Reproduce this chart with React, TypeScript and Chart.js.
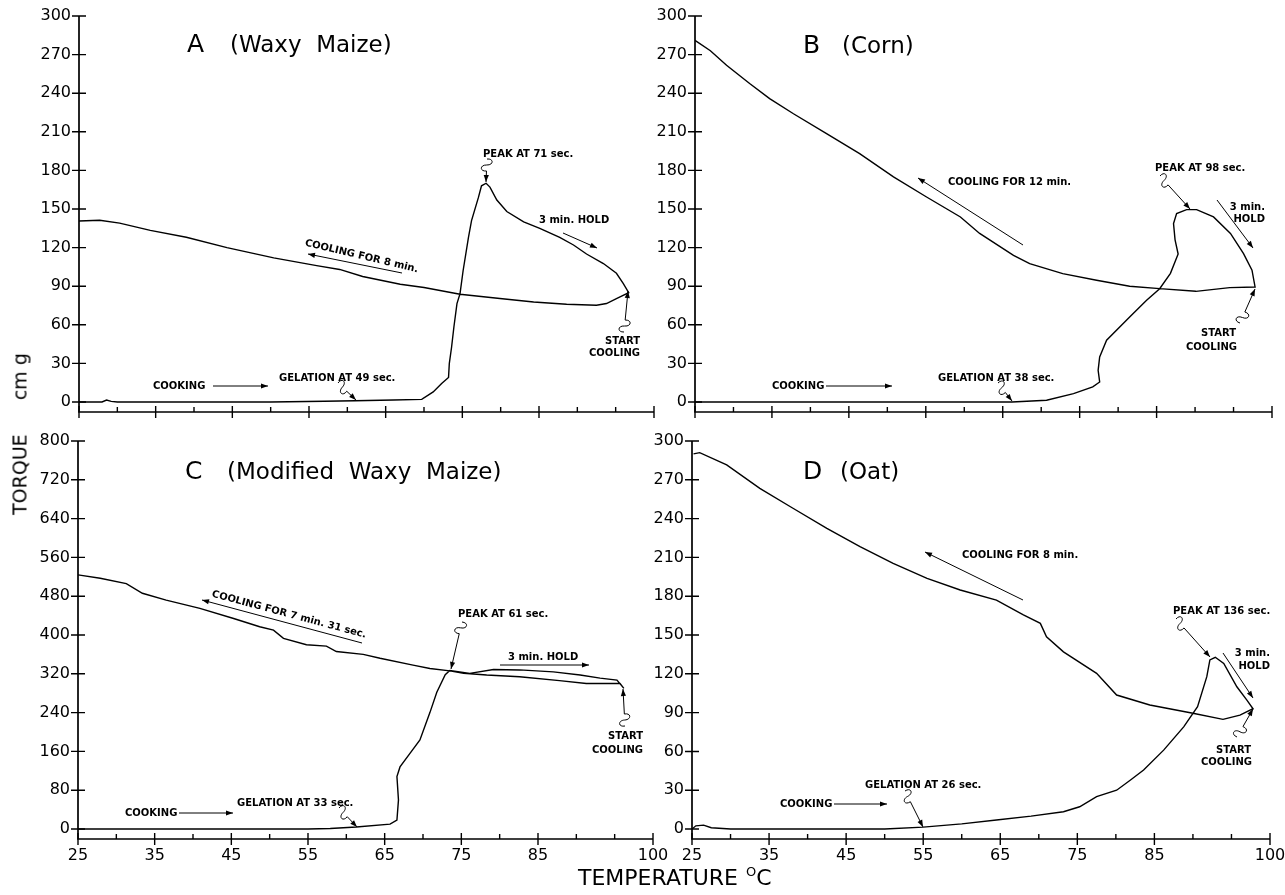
import React, { useEffect, useRef } from "react";
import { Chart, registerables } from "chart.js";
Chart.register(...registerables);

const FONT = '"DejaVu Sans", "Liberation Sans", sans-serif';

// ---- axis ticks ----
const xTicks = [25, 30, 35, 40, 45, 50, 55, 60, 65, 70, 75, 80, 85, 90, 95, 100];
const xLabelValues = [25, 35, 45, 55, 65, 75, 85, 100];
const yTicks300 = [0, 30, 60, 90, 120, 150, 180, 210, 240, 270, 300];
const yTicks800 = [0, 80, 160, 240, 320, 400, 480, 560, 640, 720, 800];

// ---- A (Waxy Maize) ----
const aHeatTemp = [25, 28, 28.6, 29.2, 30, 40, 50, 57, 61, 66, 69.7, 71.2, 72.3, 73.2, 73.3, 73.6, 73.9, 74.3, 74.7, 75.1, 75.8, 76.2, 77.1, 77.5, 78.1, 78.6, 79.5, 80.8, 83, 85.1, 87.7, 89.5, 91.2, 93.4, 95.1, 96, 96.7];
const aHeatTorque = [0, 0, 1.5, 0.5, 0, 0, 0, 0.5, 1, 1.5, 2, 7.8, 14.3, 19, 29.8, 42.7, 58.3, 76.5, 84.2, 102, 128, 141, 159, 168, 170, 167, 157, 148, 140, 135, 128, 122, 115, 107.6, 100, 92, 85];
const aCoolTemp = [96.7, 95.1, 93.8, 92.5, 88.6, 84.3, 79.9, 74.7, 70, 66.9, 62, 59, 56, 50.4, 44.3, 39, 34.3, 30.3, 27.7, 25];
const aCoolTorque = [85, 80.4, 76.5, 75.2, 75.9, 77.7, 80.4, 83.7, 89, 91.5, 97.5, 103, 106, 112, 120, 128, 133.4, 139, 141.2, 140.7];

// ---- B (Corn) ----
const bHeatTemp = [25, 40, 55, 62, 66.2, 70.7, 74.2, 76.7, 77.6, 77.4, 77.6, 78.5, 81.5, 83.7, 85.4, 86.8, 87.8, 87.4, 87.2, 87.6, 88.9, 90.2, 92.4, 94.6, 96.3, 97.4, 97.8];
const bHeatTorque = [0, 0, 0, 0, 0, 1.3, 6.5, 11.7, 15.5, 24.6, 35, 48, 66, 79, 88, 100, 115, 126, 138.6, 146.4, 149.5, 149.5, 143.8, 131, 115.3, 102.4, 89.4];
const bCoolTemp = [97.8, 94.5, 90.1, 85.4, 81.5, 77.2, 72.8, 68.5, 66.4, 64.6, 62, 59.5, 55.1, 50.8, 46.4, 42.1, 37.8, 34.7, 32.1, 29.1, 27, 25];
const bCoolTorque = [89.4, 88.9, 86, 88.1, 89.9, 94.6, 99.8, 107.5, 114, 121, 131, 143.8, 159.3, 175, 193, 208.6, 224, 235.8, 247.5, 261.7, 273, 281];

// ---- C (Modified Waxy Maize) ----
const cHeatTemp = [25, 35, 45, 55, 57.9, 61.3, 65.7, 66.6, 66.8, 66.6, 67, 68.3, 69.6, 70.9, 71.8, 72.9, 73.5, 76.1, 79.2, 82.6, 87, 90.5, 93.1, 95.3, 96.2];
const cHeatTorque = [0, 0, 0, 0, 1, 4, 10, 18.6, 60, 108, 128, 156, 183.5, 240, 282, 318, 327, 321, 329, 328, 324, 317.5, 311, 307, 290];
const cCoolTemp = [96.2, 95.7, 91.3, 87.8, 82.6, 78.3, 75.3, 73.5, 70.9, 68.7, 64.4, 62.2, 58.7, 57.4, 54.8, 51.8, 50.5, 48.7, 45.3, 40.9, 36.5, 33.4, 31.3, 27.9, 25];
const cCoolTorque = [290, 300, 300, 306, 314, 317.5, 321, 326, 331, 338, 352, 360, 366, 377, 380, 393, 410, 417, 434, 455, 472, 486, 506, 517, 524];

// ---- D (Oat) ----
const dHeatTemp = [25, 25.5, 26.5, 27.5, 30, 40, 50, 55, 60, 64.5, 69, 73.2, 75.3, 77.5, 80.1, 81.9, 83.6, 86.2, 88.8, 90.6, 91.8, 92.2, 92.9, 94, 95.7, 97, 97.8];
const dHeatTorque = [0, 2.5, 3, 1, 0, 0, 0, 1.5, 4, 7, 10, 13.4, 17.2, 25, 30, 37.9, 45.6, 61, 79, 94.6, 117.8, 130.7, 132.8, 128, 110, 99.7, 93];
const dCoolTemp = [97.8, 96.1, 93.9, 90, 84.4, 80.1, 77.5, 73.2, 71, 70.2, 68, 64.5, 59.8, 55.5, 51.1, 46.8, 42.5, 38.1, 33.8, 29.5, 26, 25.2];
const dCoolTorque = [93, 88.1, 84.8, 89.5, 95.9, 103.6, 120.4, 137, 148.7, 159, 165.5, 177, 184.8, 193.8, 205.4, 218.3, 232.5, 248, 263.4, 281.5, 291, 290];

type Note =
  | { k: "t"; x: number; y: number; s: string; a?: "left" | "right" | "center" }
  | { k: "r"; x: number; y: number; s: string; ang: number }
  | { k: "a"; x1: number; y1: number; x2: number; y2: number }
  | { k: "q"; x1: number; y1: number; x2: number; y2: number };

interface PanelDef {
  id: string;
  left: number;
  top: number;
  width: number;
  height: number;
  area: { left: number; right: number; top: number; bottom: number };
  yMin: number;
  yMax: number;
  yTicks: number[];
  xLabels: boolean;
  temp: number[];
  torque: number[];
  title: { letter: string; lx: number; name: string; nx: number; y: number };
  notes: Note[];
}

const panels: PanelDef[] = [
  {
    id: "A", left: 0, top: 0, width: 672, height: 425,
    area: { left: 79, right: 654, top: 16, bottom: 412 },
    yMin: -7.8, yMax: 300, yTicks: yTicks300, xLabels: false,
    temp: [...aHeatTemp, ...aCoolTemp], torque: [...aHeatTorque, ...aCoolTorque],
    title: { letter: "A", lx: 187, name: "(Waxy  Maize)", nx: 230, y: 45 },
    notes: [
      { k: "t", x: 153, y: 386, s: "COOKING" },
      { k: "a", x1: 213, y1: 386, x2: 268, y2: 386 },
      { k: "t", x: 279, y: 378, s: "GELATION AT 49 sec." },
      { k: "q", x1: 338, y1: 383, x2: 356, y2: 400 },
      { k: "t", x: 483, y: 154, s: "PEAK AT 71 sec." },
      { k: "q", x1: 487, y1: 159, x2: 486, y2: 182 },
      { k: "t", x: 539, y: 220, s: "3 min. HOLD" },
      { k: "a", x1: 563, y1: 233, x2: 597, y2: 248 },
      { k: "t", x: 640, y: 341, s: "START", a: "right" },
      { k: "t", x: 640, y: 353, s: "COOLING", a: "right" },
      { k: "q", x1: 624, y1: 332, x2: 628, y2: 291 },
      { k: "r", x: 305, y: 243, s: "COOLING FOR 8 min.", ang: 13.3 },
      { k: "a", x1: 402, y1: 273, x2: 308, y2: 254 },
    ],
  },
  {
    id: "B", left: 650, top: 0, width: 635, height: 425,
    area: { left: 695, right: 1272, top: 16, bottom: 412 },
    yMin: -7.8, yMax: 300, yTicks: yTicks300, xLabels: false,
    temp: [...bHeatTemp, ...bCoolTemp], torque: [...bHeatTorque, ...bCoolTorque],
    title: { letter: "B", lx: 803, name: "(Corn)", nx: 842, y: 46 },
    notes: [
      { k: "t", x: 772, y: 386, s: "COOKING" },
      { k: "a", x1: 826, y1: 386, x2: 892, y2: 386 },
      { k: "t", x: 938, y: 378, s: "GELATION AT 38 sec." },
      { k: "q", x1: 998, y1: 383, x2: 1012, y2: 401 },
      { k: "t", x: 948, y: 182, s: "COOLING FOR 12 min." },
      { k: "a", x1: 1023, y1: 245, x2: 918, y2: 178 },
      { k: "t", x: 1155, y: 168, s: "PEAK AT 98 sec." },
      { k: "q", x1: 1160, y1: 176, x2: 1190, y2: 209 },
      { k: "t", x: 1265, y: 207, s: "3 min.", a: "right" },
      { k: "t", x: 1265, y: 219, s: "HOLD", a: "right" },
      { k: "a", x1: 1217, y1: 200, x2: 1253, y2: 248 },
      { k: "t", x: 1236, y: 333, s: "START", a: "right" },
      { k: "t", x: 1237, y: 347, s: "COOLING", a: "right" },
      { k: "q", x1: 1240, y1: 323, x2: 1255, y2: 289 },
    ],
  },
  {
    id: "C", left: 0, top: 425, width: 672, height: 470,
    area: { left: 78, right: 653, top: 441, bottom: 839 },
    yMin: -20.6, yMax: 800, yTicks: yTicks800, xLabels: true,
    temp: [...cHeatTemp, ...cCoolTemp], torque: [...cHeatTorque, ...cCoolTorque],
    title: { letter: "C", lx: 185, name: "(Modified  Waxy  Maize)", nx: 227, y: 472 },
    notes: [
      { k: "t", x: 125, y: 813, s: "COOKING" },
      { k: "a", x1: 179, y1: 813, x2: 233, y2: 813 },
      { k: "t", x: 237, y: 803, s: "GELATION AT 33 sec." },
      { k: "q", x1: 339, y1: 808, x2: 357, y2: 827 },
      { k: "r", x: 212, y: 594, s: "COOLING FOR 7 min. 31 sec.", ang: 15 },
      { k: "a", x1: 362, y1: 643, x2: 202, y2: 600 },
      { k: "t", x: 458, y: 614, s: "PEAK AT 61 sec." },
      { k: "q", x1: 462, y1: 622, x2: 451, y2: 669 },
      { k: "t", x: 508, y: 657, s: "3 min. HOLD" },
      { k: "a", x1: 500, y1: 665, x2: 589, y2: 665 },
      { k: "t", x: 643, y: 736, s: "START", a: "right" },
      { k: "t", x: 643, y: 750, s: "COOLING", a: "right" },
      { k: "q", x1: 625, y1: 726, x2: 623, y2: 689 },
    ],
  },
  {
    id: "D", left: 650, top: 425, width: 635, height: 470,
    area: { left: 692, right: 1270, top: 441, bottom: 839 },
    yMin: -7.7, yMax: 300, yTicks: yTicks300, xLabels: true,
    temp: [...dHeatTemp, ...dCoolTemp], torque: [...dHeatTorque, ...dCoolTorque],
    title: { letter: "D", lx: 803, name: "(Oat)", nx: 840, y: 472 },
    notes: [
      { k: "t", x: 780, y: 804, s: "COOKING" },
      { k: "a", x1: 834, y1: 804, x2: 887, y2: 804 },
      { k: "t", x: 865, y: 785, s: "GELATION AT 26 sec." },
      { k: "q", x1: 905, y1: 791, x2: 923, y2: 827 },
      { k: "t", x: 962, y: 555, s: "COOLING FOR 8 min." },
      { k: "a", x1: 1023, y1: 600, x2: 925, y2: 552 },
      { k: "t", x: 1173, y: 611, s: "PEAK AT 136 sec." },
      { k: "q", x1: 1176, y1: 619, x2: 1210, y2: 657 },
      { k: "t", x: 1270, y: 653, s: "3 min.", a: "right" },
      { k: "t", x: 1270, y: 666, s: "HOLD", a: "right" },
      { k: "a", x1: 1223, y1: 653, x2: 1253, y2: 698 },
      { k: "t", x: 1251, y: 750, s: "START", a: "right" },
      { k: "t", x: 1252, y: 762, s: "COOLING", a: "right" },
      { k: "q", x1: 1237, y1: 737, x2: 1253, y2: 709 },
    ],
  },
];

function arrowHead(ctx: CanvasRenderingContext2D, x1: number, y1: number, x2: number, y2: number) {
  const len = 7, w = 2.6;
  const ang = Math.atan2(y2 - y1, x2 - x1);
  const c = Math.cos(ang), s = Math.sin(ang);
  ctx.beginPath();
  ctx.moveTo(x2, y2);
  ctx.lineTo(x2 - len * c + w * s, y2 - len * s - w * c);
  ctx.lineTo(x2 - len * c - w * s, y2 - len * s + w * c);
  ctx.closePath();
  ctx.fill();
}

function squiggle(ctx: CanvasRenderingContext2D, x1: number, y1: number, x2: number, y2: number) {
  const dx = x2 - x1, dy = y2 - y1;
  const L = Math.hypot(dx, dy);
  const ux = dx / L, uy = dy / L, nx = -uy, ny = ux;
  const P = (t: number, o: number): [number, number] => [x1 + ux * t + nx * o, y1 + uy * t + ny * o];
  const a = P(-1, -7), b = P(6, -7), c = P(6, 0), d = P(6, 7), e = P(13, 7), f = P(12, 0);
  ctx.beginPath();
  ctx.moveTo(x1, y1);
  ctx.bezierCurveTo(a[0], a[1], b[0], b[1], c[0], c[1]);
  ctx.bezierCurveTo(d[0], d[1], e[0], e[1], f[0], f[1]);
  ctx.lineTo(x2, y2);
  ctx.stroke();
  arrowHead(ctx, f[0], f[1], x2, y2);
}

function makeDecor(p: PanelDef) {
  return {
    id: "decor" + p.id,
    afterDraw(chart: any) {
      const ctx: CanvasRenderingContext2D = chart.ctx;
      const xs = chart.scales.x;
      const ys = chart.scales.y;
      const { left, right, top, bottom } = chart.chartArea;
      ctx.save();
      ctx.strokeStyle = "#000";
      ctx.fillStyle = "#000";
      // axes
      ctx.lineWidth = 1.7;
      ctx.beginPath();
      ctx.moveTo(left, top);
      ctx.lineTo(left, bottom);
      ctx.lineTo(right, bottom);
      ctx.stroke();
      // tick marks
      ctx.lineWidth = 1.4;
      ctx.beginPath();
      p.yTicks.forEach((v) => {
        const y = ys.getPixelForValue(v);
        ctx.moveTo(left - 7, y);
        ctx.lineTo(left + 7, y);
      });
      xTicks.forEach((v) => {
        const x = xs.getPixelForValue(v);
        const major = xLabelValues.includes(v);
        ctx.moveTo(x, bottom - (major ? 6 : 5));
        ctx.lineTo(x, bottom + (major ? 6 : 0));
      });
      ctx.stroke();

      const ox = p.left, oy = p.top;
      // title
      ctx.textBaseline = "middle";
      ctx.textAlign = "left";
      ctx.font = `25px ${FONT}`;
      ctx.fillText(p.title.letter, p.title.lx - ox, p.title.y - oy);
      ctx.font = `23px ${FONT}`;
      ctx.fillText(p.title.name, p.title.nx - ox, p.title.y - oy + 1);

      // annotations
      ctx.font = `bold 10px ${FONT}`;
      ctx.lineWidth = 1;
      p.notes.forEach((n) => {
        if (n.k === "t") {
          ctx.textAlign = n.a || "left";
          ctx.fillText(n.s, n.x - ox, n.y - oy);
        } else if (n.k === "r") {
          ctx.save();
          ctx.translate(n.x - ox, n.y - oy);
          ctx.rotate((n.ang * Math.PI) / 180);
          ctx.textAlign = "left";
          ctx.fillText(n.s, 0, 0);
          ctx.restore();
        } else if (n.k === "a") {
          ctx.beginPath();
          ctx.moveTo(n.x1 - ox, n.y1 - oy);
          ctx.lineTo(n.x2 - ox, n.y2 - oy);
          ctx.stroke();
          arrowHead(ctx, n.x1 - ox, n.y1 - oy, n.x2 - ox, n.y2 - oy);
        } else if (n.k === "q") {
          squiggle(ctx, n.x1 - ox, n.y1 - oy, n.x2 - ox, n.y2 - oy);
        }
      });
      ctx.restore();
    },
  };
}

function Panel({ p }: { p: PanelDef }) {
  const ref = useRef<HTMLCanvasElement>(null);
  useEffect(() => {
    const cv = ref.current;
    if (!cv) return;
    const aL = p.area.left - p.left;
    const aR = p.area.right - p.left;
    const aT = p.area.top - p.top;
    const aB = p.area.bottom - p.top;
    const points = p.temp.map((t, i) => ({ x: t, y: p.torque[i] }));
    const chart = new Chart(cv, {
      type: "line",
      data: {
        datasets: [
          {
            data: points,
            borderColor: "#000",
            borderWidth: 1.4,
            pointRadius: 0,
            tension: 0,
            fill: false,
          },
        ],
      },
      options: {
        animation: false,
        responsive: false,
        maintainAspectRatio: false,
        events: [],
        layout: { padding: { left: 0, top: aT, right: p.width - aR, bottom: 0 } },
        plugins: { legend: { display: false }, tooltip: { enabled: false }, title: { display: false } },
        scales: {
          x: {
            type: "linear",
            min: 25,
            max: 100,
            afterBuildTicks: (s: any) => {
              s.ticks = xTicks.map((v) => ({ value: v }));
            },
            afterFit: (s: any) => {
              s.height = p.height - aB;
              s.paddingLeft = 0;
              s.paddingRight = 0;
            },
            grid: { display: false, drawTicks: false },
            border: { display: false },
            ticks: {
              display: p.xLabels,
              autoSkip: false,
              maxRotation: 0,
              padding: 7,
              color: "#000",
              font: { family: FONT, size: 16 },
              callback: (v: any) => (xLabelValues.includes(Number(v)) ? String(v) : ""),
            },
          },
          y: {
            type: "linear",
            min: p.yMin,
            max: p.yMax,
            afterBuildTicks: (s: any) => {
              s.ticks = p.yTicks.map((v) => ({ value: v }));
            },
            afterFit: (s: any) => {
              s.width = aL;
              s.paddingTop = 0;
              s.paddingBottom = 0;
            },
            grid: { display: false, drawTicks: false },
            border: { display: false },
            ticks: {
              autoSkip: false,
              padding: 8,
              color: "#000",
              font: { family: FONT, size: 16 },
              callback: (v: any) => String(v),
            },
          },
        },
      } as any,
      plugins: [makeDecor(p)],
    });
    return () => chart.destroy();
  }, [p]);
  return (
    <canvas
      ref={ref}
      width={p.width}
      height={p.height}
      style={{ position: "absolute", left: p.left, top: p.top, width: p.width, height: p.height }}
    />
  );
}

export default function App() {
  return (
    <div
      style={{
        position: "fixed",
        left: 0,
        top: 0,
        width: 1285,
        height: 895,
        background: "#fff",
        overflow: "hidden",
        fontFamily: FONT,
        color: "#000",
      }}
    >
      {panels.map((p) => (
        <Panel key={p.id} p={p} />
      ))}
      <div
        style={{
          position: "absolute",
          left: 20,
          top: 434,
          transform: "translate(-50%, -50%) rotate(-90deg)",
          whiteSpace: "nowrap",
          fontSize: 19,
          lineHeight: "1",
        }}
      >
        <span>TORQUE</span>
        <span style={{ marginLeft: 34 }}>cm g</span>
      </div>
      <div
        style={{
          position: "absolute",
          left: 578,
          top: 867,
          whiteSpace: "nowrap",
          fontSize: 22,
          lineHeight: "1",
        }}
      >
        TEMPERATURE
        <span style={{ fontSize: 13, position: "relative", top: -9, marginLeft: 8 }}>O</span>
        <span>C</span>
      </div>
    </div>
  );
}
